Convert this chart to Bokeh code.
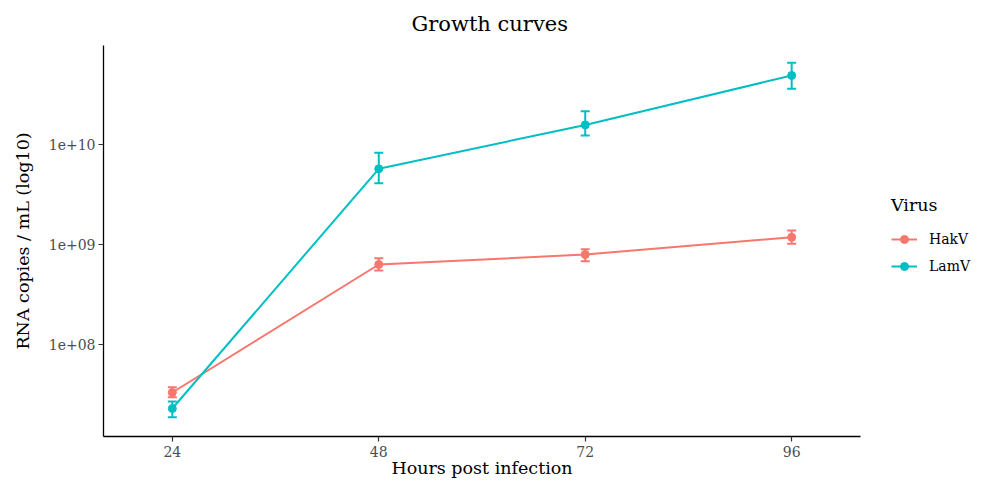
from bokeh.plotting import figure
from bokeh.layouts import row
from bokeh.models import (ColumnDataSource, Range1d, FixedTicker, CustomJSTickFormatter,
                          Whisker, TeeHead, Legend, LegendItem)
from bokeh.embed import file_html
from bokeh.resources import INLINE

hours = [24, 48, 72, 96]
hakv_mean = [3.31e7, 6.31e8, 7.94e8, 1.18e9]
hakv_lower = [2.97e7, 5.50e8, 6.81e8, 1.02e9]
hakv_upper = [3.74e7, 7.29e8, 8.97e8, 1.38e9]
lamv_mean = [2.29e7, 5.71e9, 1.57e10, 4.90e10]
lamv_lower = [1.87e7, 4.10e9, 1.23e10, 3.61e10]
lamv_upper = [2.69e7, 8.26e9, 2.15e10, 6.56e10]
y_ticks = [1e8, 1e9, 1e10]
virus_names = ["HakV", "LamV"]

FONT = "DejaVu Serif"
RED = "#F8766D"
TEAL = "#00BFC4"

p = figure(width=870, height=482, output_backend="svg", toolbar_location=None,
           y_axis_type="log",
           x_range=Range1d(16, 104), y_range=Range1d(10**7.08, 10**10.99))
p.frame_width = 757
p.frame_height = 391
p.min_border_left = 103
p.min_border_right = 10
p.min_border_top = 45
p.min_border_bottom = 46
p.outline_line_color = None
p.background_fill_color = "white"
p.border_fill_color = "white"
p.xgrid.visible = False
p.ygrid.visible = False

p.title.text = "Growth curves"
p.title.align = "left"
p.title.vertical_align = "top"
p.title.offset = 308
p.title.standoff = 16
p.title.text_font = FONT
p.title.text_font_size = "21px"
p.title.text_font_style = "normal"
p.title.text_color = "black"

for ax in (p.xaxis[0], p.yaxis[0]):
    ax.axis_line_color = "black"
    ax.axis_line_width = 1.3
    ax.major_tick_line_color = "#333333"
    ax.major_tick_line_width = 1.2
    ax.major_tick_out = 5
    ax.major_tick_in = 0
    ax.minor_tick_line_color = None
    ax.major_label_text_font = FONT
    ax.major_label_text_font_size = "14px"
    ax.major_label_text_color = "#4D4D4D"
    ax.axis_label_text_font = FONT
    ax.axis_label_text_font_size = "17.5px"
    ax.axis_label_text_font_style = "normal"
    ax.axis_label_text_color = "black"

p.xaxis.ticker = FixedTicker(ticks=hours)
p.xaxis.axis_label = "Hours post infection"
p.xaxis.major_label_standoff = 4
p.xaxis.axis_label_standoff = -2
p.yaxis.ticker = FixedTicker(ticks=y_ticks)
p.yaxis.formatter = CustomJSTickFormatter(code="""
const e = Math.round(Math.log10(tick));
return "1e+" + (e < 10 ? "0" + e : "" + e);
""")
p.yaxis.axis_label = "RNA copies / mL (log10)"
p.yaxis.major_label_standoff = 3
p.yaxis.axis_label_standoff = 13

series = [(virus_names[0], hakv_mean, hakv_lower, hakv_upper, RED),
          (virus_names[1], lamv_mean, lamv_lower, lamv_upper, TEAL)]
for name, mean, lo, up, col in series:
    src = ColumnDataSource(dict(x=hours, y=mean, lower=lo, upper=up))
    p.line("x", "y", source=src, line_color=col, line_width=2)
    w = Whisker(source=src, base="x", lower="lower", upper="upper",
                line_color=col, line_width=2,
                upper_head=TeeHead(size=9, line_color=col, line_width=2),
                lower_head=TeeHead(size=9, line_color=col, line_width=2))
    p.add_layout(w)
    p.scatter("x", "y", source=src, size=8, fill_color=col, line_color=col)

# legend panel (separate figure to the right of the plot); its renderers lie
# outside its own range, so only the legend glyphs are visible
lg = figure(width=115, height=482, output_backend="svg", toolbar_location=None,
            x_range=Range1d(0, 1), y_range=Range1d(0, 1))
lg.axis.visible = False
lg.xgrid.visible = False
lg.ygrid.visible = False
lg.outline_line_color = None
lg.min_border = 0
lg.border_fill_color = "white"
lg.background_fill_color = "white"
items = []
for name, mean, lo, up, col in series:
    src = ColumnDataSource(dict(x=hours, y=mean))
    lr = lg.line("x", "y", source=src, line_color=col, line_width=2)
    sr = lg.scatter("x", "y", source=src, size=8, fill_color=col, line_color=col)
    items.append(LegendItem(label=name, renderers=[lr, sr]))

legend = Legend(items=items, location=(21, 160), title="Virus",
                title_text_font=FONT, title_text_font_size="17.5px", title_text_color="black",
                title_text_font_style="normal", title_standoff=14,
                label_text_font=FONT, label_text_font_size="14px", label_text_color="black",
                label_standoff=12, glyph_width=26, glyph_height=20, spacing=7,
                padding=4, margin=0, border_line_color=None, background_fill_alpha=0)
lg.add_layout(legend, "center")

layout = row(p, lg, spacing=0)
open("out.html", "w").write(file_html(layout, INLINE))
